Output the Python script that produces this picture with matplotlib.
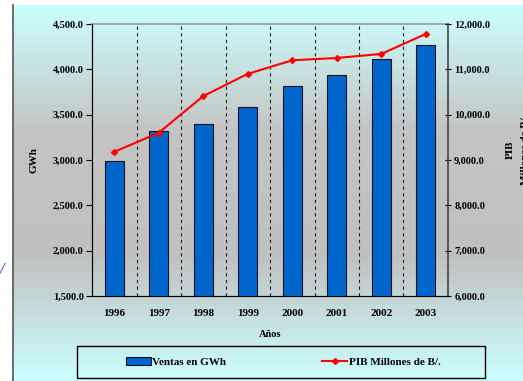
import numpy as np
import matplotlib
matplotlib.use('Agg')
import matplotlib.pyplot as plt
from matplotlib.colors import LinearSegmentedColormap
from matplotlib.ticker import FuncFormatter

years = ['1996', '1997', '1998', '1999', '2000', '2001', '2002', '2003']
ventas = [2990, 3320, 3400, 3585, 3815, 3940, 4115, 4270]      # GWh
pib = [9180, 9600, 10410, 10900, 11200, 11250, 11340, 11780]    # millones de B/.

plt.rcParams['font.family'] = ['Liberation Serif', 'DejaVu Serif']
plt.rcParams['font.weight'] = 'bold'
plt.rcParams['axes.labelweight'] = 'bold'

fig = plt.figure(figsize=(5.23, 3.81), dpi=100)

# background gradient cyan -> gray -> cyan
bg = fig.add_axes([13/523, 0, 1 - 13/523, 1 - 5/381], zorder=-10)
cmap = LinearSegmentedColormap.from_list('bg', ['#ccffff', '#c4c4c4', '#c0c0c0', '#ccffff'])
grad = np.linspace(0, 1, 256).reshape(-1, 1)
bg.imshow(grad, aspect='auto', cmap=cmap, extent=[0, 1, 0, 1], origin='upper')
bg.set_axis_off()
fig.add_artist(plt.Line2D([13/523, 13/523], [0, 1 - 5/381], color='#555555', lw=1.2))
fig.text(0.0, 0.28, '/', color='#3366cc', fontsize=12, style='italic')

ax = fig.add_axes([92/523, 1 - 296/381, 356/523, 272/381])
ax.set_facecolor('none')
x = np.arange(len(years))
b = ax.bar(x, ventas, width=0.43, color='#0066cc', edgecolor='#111122', lw=0.8,
           label='Ventas en GWh', zorder=3)
ax.set_ylim(1500, 4500)
ax.set_xlim(-0.5, len(years) - 0.5)
ax.set_yticks(np.arange(1500, 4501, 500))
ax.yaxis.set_major_formatter(FuncFormatter(lambda v, p: '{:,.1f}'.format(v)))
ax.set_xticks(x)
ax.set_xticklabels(years)
ax.tick_params(axis='x', length=0, pad=9, labelsize=8)
ax.tick_params(axis='y', direction='out', length=4, labelsize=7.5, pad=2)
for xv in x[:-1] + 0.5:
    ax.axvline(xv, color='#222222', ls=(0, (3, 3)), lw=0.8, zorder=1)
ax.spines['top'].set_color('#999999')
ax.spines['top'].set_linewidth(1.2)
ax.spines['right'].set_visible(False)
ax.set_ylabel('GWh', fontsize=8, labelpad=10)
ax.set_xlabel('Años', fontsize=7.5, labelpad=9)

ax2 = ax.twinx()
l, = ax2.plot(x, pib, color='#ff0000', lw=1.5, marker='D', ms=3,
              label='PIB Millones de B/.', zorder=4)
ax2.set_ylim(6000, 12000)
ax2.set_yticks(np.arange(6000, 12001, 1000))
ax2.yaxis.set_major_formatter(FuncFormatter(lambda v, p: '{:,.1f}'.format(v)))
ax2.tick_params(axis='y', direction='inout', length=5, labelsize=7.5, pad=2)
ax2.spines['right'].set_color('#444444')
ax2.spines['right'].set_linewidth(1.2)
ax2.spines['top'].set_visible(False)
fig.text(510/523, 1 - 150/381, 'PIB', rotation=90, fontsize=8, ha='center', va='center')
fig.text(526/523, 1 - 150/381, 'Millones de B/.', rotation=90, fontsize=8, ha='center', va='center')

# legend box drawn separately, entries spread like the original
box = plt.Rectangle((77/523, 1 - 378/381), 408/523, 32/381, transform=fig.transFigure,
                    fill=False, edgecolor='black', lw=1.0)
fig.add_artist(box)
leg = fig.legend([b, l], ['Ventas en GWh', 'PIB Millones de B/.'], ncol=2,
                 loc='center', bbox_to_anchor=(283/523, 1 - 362/381),
                 fontsize=8, frameon=False, handlelength=2.3, handletextpad=0.1,
                 columnspacing=8.6)

plt.savefig('out.png', dpi=100)
plt.close()
